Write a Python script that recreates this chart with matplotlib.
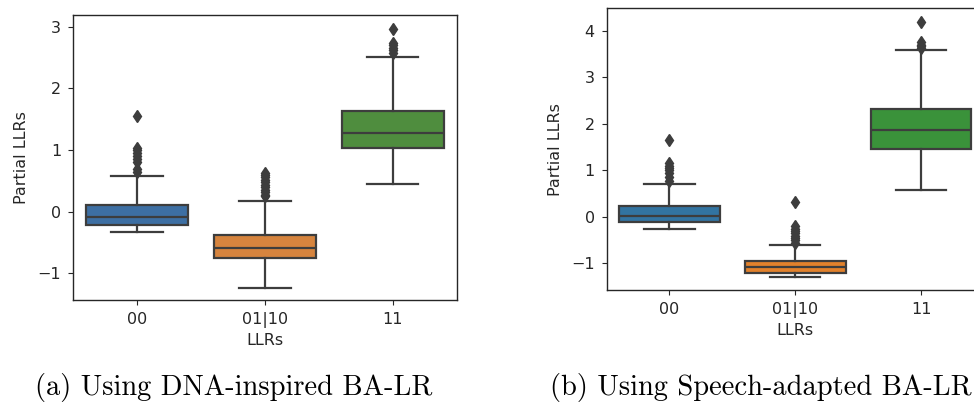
import matplotlib
matplotlib.use("Agg")
import matplotlib.pyplot as plt

categories = ["00", "01|10", "11"]

# Panel (a): DNA-inspired BA-LR
a_whislo = [-0.32, -1.23, 0.45]
a_q1 = [-0.21, -0.755, 1.04]
a_med = [-0.08, -0.59, 1.27]
a_q3 = [0.11, -0.38, 1.63]
a_whishi = [0.58, 0.17, 2.51]
a_fliers = [
    [0.65, 0.70, 0.80, 0.85, 0.90, 0.95, 1.00, 1.03, 1.55],
    [0.25, 0.28, 0.32, 0.36, 0.40, 0.44, 0.48, 0.52, 0.56, 0.60, 0.63],
    [2.58, 2.62, 2.66, 2.70, 2.73, 2.96],
]

# Panel (b): Speech-adapted BA-LR
b_whislo = [-0.25, -1.30, 0.57]
b_q1 = [-0.12, -1.20, 1.46]
b_med = [0.01, -1.08, 1.86]
b_q3 = [0.23, -0.95, 2.31]
b_whishi = [0.71, -0.61, 3.58]
b_fliers = [
    [0.77, 0.85, 0.95, 1.00, 1.05, 1.10, 1.15, 1.66],
    [-0.55, -0.50, -0.45, -0.40, -0.35, -0.30, -0.25, -0.20, 0.31],
    [3.62, 3.66, 3.70, 3.75, 4.19],
]

a_colors = ["#3d6fa3", "#d6843e", "#4f8d3e"]
b_colors = ["#3274a1", "#e1812c", "#3a923a"]

captions = ["(a) Using DNA-inspired BA-LR", "(b) Using Speech-adapted BA-LR"]

fig = plt.figure(figsize=(9.74, 4.03), dpi=100)

line_col = "#3d3d3d"


def draw(ax, whislo, q1, med, q3, whishi, fliers, colors, ylim, yticks):
    stats = []
    for i, c in enumerate(categories):
        stats.append(dict(label=c, whislo=whislo[i], q1=q1[i], med=med[i],
                          q3=q3[i], whishi=whishi[i], fliers=fliers[i]))
    bp = ax.bxp(stats, positions=range(len(categories)), widths=0.8,
                patch_artist=True, showfliers=True, capwidths=0.4,
                boxprops=dict(linewidth=1.6, edgecolor=line_col),
                medianprops=dict(color=line_col, linewidth=1.6),
                whiskerprops=dict(color=line_col, linewidth=1.6),
                capprops=dict(color=line_col, linewidth=1.6),
                flierprops=dict(marker="d", markerfacecolor=line_col,
                                markeredgecolor=line_col, markersize=6))
    for patch, col in zip(bp["boxes"], colors):
        patch.set_facecolor(col)
    ax.set_xlim(-0.5, 2.5)
    ax.set_ylim(*ylim)
    ax.set_yticks(yticks)
    ax.set_xticks(range(len(categories)))
    ax.set_xticklabels(categories)
    ax.tick_params(labelsize=11.5, colors="#262626", labelcolor="#262626",
                   pad=5)
    ax.set_xlabel("LLRs", fontsize=11.5, color="#262626", labelpad=4)
    ax.set_ylabel("Partial LLRs", fontsize=11.5, color="#262626", labelpad=6)
    for s in ax.spines.values():
        s.set_linewidth(1.0)
        s.set_color("#262626")


ax1 = fig.add_axes([0.075, 0.2556, 0.394, 0.7072])
draw(ax1, a_whislo, a_q1, a_med, a_q3, a_whishi, a_fliers, a_colors,
     (-1.43, 3.19), [-1, 0, 1, 2, 3])

ax2 = fig.add_axes([0.6227, 0.2804, 0.3876, 0.699])
draw(ax2, b_whislo, b_q1, b_med, b_q3, b_whishi, b_fliers, b_colors,
     (-1.57, 4.48), [-1, 0, 1, 2, 3, 4])

fig.text(234 / 974, 1 - 395 / 403, captions[0], fontsize=20.5, family="cmr10",
         ha="center", va="baseline")
fig.text(550 / 974, 1 - 395 / 403, captions[1], fontsize=20.5, family="cmr10",
         ha="left", va="baseline")

fig.savefig("out.png", dpi=100)
